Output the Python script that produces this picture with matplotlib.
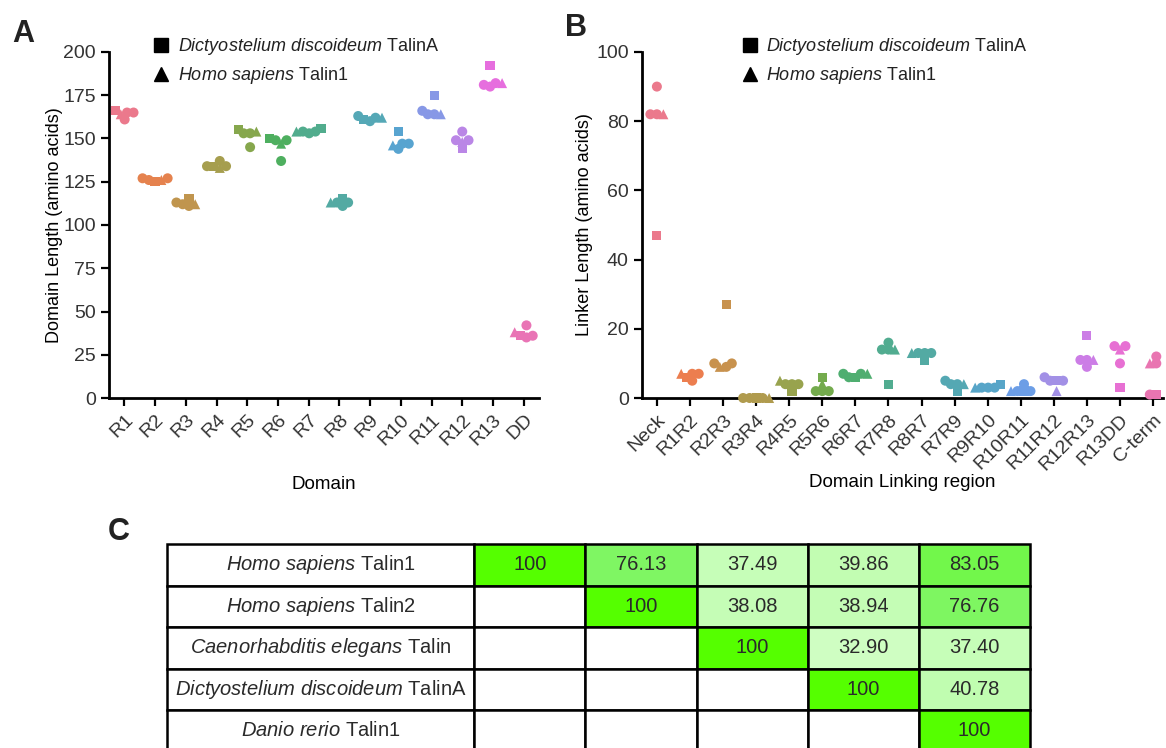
import numpy as np
import matplotlib
matplotlib.use('Agg')
import matplotlib.pyplot as plt
import seaborn as sns
from matplotlib.lines import Line2D
from matplotlib.colors import LinearSegmentedColormap, Normalize

plt.rcParams['font.family'] = ['Liberation Sans', 'DejaVu Sans']
plt.rcParams['mathtext.fontset'] = 'custom'
plt.rcParams['mathtext.rm'] = 'Liberation Sans'
plt.rcParams['mathtext.it'] = 'Liberation Sans:italic'
plt.rcParams['text.color'] = '#222222'

# ---- panel A: domain lengths (one value per species) ----
domains = ['R1', 'R2', 'R3', 'R4', 'R5', 'R6', 'R7', 'R8', 'R9', 'R10', 'R11', 'R12', 'R13', 'DD']
dicty_a = [166, 125, 115, 134, 155, 150, 156, 115, 161, 154, 175, 144, 192, 36]
human1_a = [164, 126, 112, 133, 154, 147, 154, 113, 162, 146, 164, 148, 182, 38]
human2_a = [165, 127, 112, 134, 153, 149, 154, 113, 163, 147, 166, 154, 181, 42]
elegans_a = [165, 127, 111, 137, 153, 149, 154, 113, 162, 147, 164, 149, 180, 36]
danio_a = [161, 126, 113, 134, 145, 137, 153, 111, 160, 144, 164, 149, 182, 35]

# ---- panel B: linker lengths ----
linkers = ['Neck', 'R1R2', 'R2R3', 'R3R4', 'R4R5', 'R5R6', 'R6R7', 'R7R8', 'R8R7', 'R7R9',
           'R9R10', 'R10R11', 'R11R12', 'R12R13', 'R13DD', 'C-term']
dicty_b = [47, 6, 27, 0, 2, 6, 6, 4, 11, 2, 4, 2, 5, 18, 3, 1]
human1_b = [82, 7, 9, 0, 5, 4, 7, 14, 13, 4, 3, 2, 2, 11, 14, 10]
human2_b = [90, 7, 10, 0, 4, 2, 6, 16, 13, 4, 3, 4, 6, 11, 15, 12]
elegans_b = [82, 7, 9, 0, 4, 2, 7, 14, 13, 4, 3, 2, 5, 11, 15, 10]
danio_b = [82, 5, 10, 0, 4, 2, 7, 14, 13, 5, 3, 2, 5, 9, 10, 1]

# ---- panel C: identity table ----
species = [r'$\it{Homo\ sapiens}$ Talin1', r'$\it{Homo\ sapiens}$ Talin2',
           r'$\it{Caenorhabditis\ elegans}$ Talin', r'$\it{Dictyostelium\ discoideum}$ TalinA',
           r'$\it{Danio\ rerio}$ Talin1']
identity = [[100, 76.13, 37.49, 39.86, 83.05],
            [None, 100, 38.08, 38.94, 76.76],
            [None, None, 100, 32.90, 37.40],
            [None, None, None, 100, 40.78],
            [None, None, None, None, 100]]


def swarm_offsets(y_px, d):
    # simple beeswarm: place points by value, nearest free spot to the centre
    order = np.argsort(y_px, kind='stable')
    placed = []
    xs = np.zeros(len(y_px))
    for i in order:
        cands = [0.0]
        for px, py in placed:
            dy = y_px[i] - py
            if abs(dy) < d:
                dx = np.sqrt(d ** 2 - dy ** 2)
                cands += [px - dx, px + dx]
        cands.sort(key=abs)
        for c in cands:
            if all((c - px) ** 2 + (y_px[i] - py) ** 2 >= d ** 2 - 1e-6 for px, py in placed):
                xs[i] = c
                break
        placed.append((xs[i], y_px[i]))
    # keep the group centred on its tick
    return xs - (xs.min() + xs.max()) / 2


def draw_panel(ax, cats, series, ylim, yticks, xlim, d=6.5):
    ax.set_xlim(*xlim)
    ax.set_ylim(*ylim)
    colors = sns.husl_palette(len(cats), s=0.75, l=0.65)
    p0 = ax.transData.transform((0, 0))
    p1 = ax.transData.transform((1, 1))
    sx, sy = p1 - p0
    for j in range(len(cats)):
        vals = np.array([s[0][j] for s in series], dtype=float)
        offs = swarm_offsets(vals * sy, d) / sx
        for (s, m, size), off, v in zip(series, offs, vals):
            ax.scatter(j + off, v, marker=m, s=size, color=colors[j], edgecolors='none',
                       clip_on=False, zorder=3)
    ax.set_xticks(range(len(cats)))
    ax.set_xticklabels(cats, rotation=45, ha='right', rotation_mode='anchor')
    ax.set_yticks(yticks)
    for sp in ['top', 'right']:
        ax.spines[sp].set_visible(False)
    for sp in ['left', 'bottom']:
        ax.spines[sp].set_linewidth(2)
    ax.tick_params(direction='out', length=6, width=1.6, labelsize=14, labelcolor='#333333')


fig = plt.figure(figsize=(11.66, 7.48), dpi=100)

handles = [Line2D([], [], marker='s', color='black', linestyle='none', markersize=10.5),
           Line2D([], [], marker='^', color='black', linestyle='none', markersize=10.5)]
leg_labels = [r'$\it{Dictyostelium\ discoideum}$ TalinA', r'$\it{Homo\ sapiens}$ Talin1']

axA = fig.add_axes([0.0935, 0.4679, 0.3688, 0.4626])
ser_a = [(dicty_a, 's', 44), (human2_a, 'o', 52), (elegans_a, 'o', 52), (danio_a, 'o', 52),
         (human1_a, '^', 52)]
draw_panel(axA, domains, ser_a, (0, 200), range(0, 201, 25), (-0.5, 13.5))
axA.set_ylabel('Domain Length (amino acids)', fontsize=13, labelpad=0)
axA.set_xlabel('Domain', fontsize=13.5, labelpad=20)
axA.legend(handles, leg_labels, loc='upper left', bbox_to_anchor=(0.08, 1.072), frameon=False,
           fontsize=13, handlelength=1.0, handletextpad=0.4, labelspacing=0.45, borderpad=0)

axB = fig.add_axes([0.5506, 0.4679, 0.4468, 0.4626])
ser_b = [(dicty_b, 's', 44), (human2_b, 'o', 52), (elegans_b, 'o', 52), (danio_b, 'o', 52),
         (human1_b, '^', 52)]
draw_panel(axB, linkers, ser_b, (0, 100), range(0, 101, 20), (-0.45, 15.3))
axB.set_ylabel('Linker Length (amino acids)', fontsize=13, labelpad=2)
axB.set_xlabel('Domain Linking region', fontsize=13.5, labelpad=0)
axB.legend(handles, leg_labels, loc='upper left', bbox_to_anchor=(0.172, 1.072), frameon=False,
           fontsize=13, handlelength=1.0, handletextpad=0.4, labelspacing=0.45, borderpad=0)

# ---- table ----
axC = fig.add_axes([0.1432, -0.0047, 0.7401, 0.2774])
axC.axis('off')
cmap = LinearSegmentedColormap.from_list('idg', [(0, '#d4ffc8'), (0.714, '#78f55a'), (1, '#55ff00')])
norm = Normalize(30, 100)
cell_text = []
cell_colors = []
for name, row in zip(species, identity):
    cell_text.append([name] + ['' if v is None else ('100' if v == 100 else f'{v:.2f}') for v in row])
    cell_colors.append(['white'] + ['white' if v is None else cmap(norm(v)) for v in row])
tbl = axC.table(cellText=cell_text, cellColours=cell_colors, cellLoc='center',
                colWidths=[307] + [111] * 5, bbox=[0, 0, 1, 1])
tbl.auto_set_font_size(False)
tbl.set_fontsize(14.5)
for cell in tbl.get_celld().values():
    cell.set_linewidth(1.8)
    cell.set_edgecolor('black')
    cell.get_text().set_color('#2a2a2a')

fig.text(0.0103, 0.944, 'A', fontsize=22, fontweight='bold')
fig.text(0.4846, 0.952, 'B', fontsize=22, fontweight='bold')
fig.text(0.0926, 0.278, 'C', fontsize=22, fontweight='bold')

fig.savefig('out.png', dpi=100)
